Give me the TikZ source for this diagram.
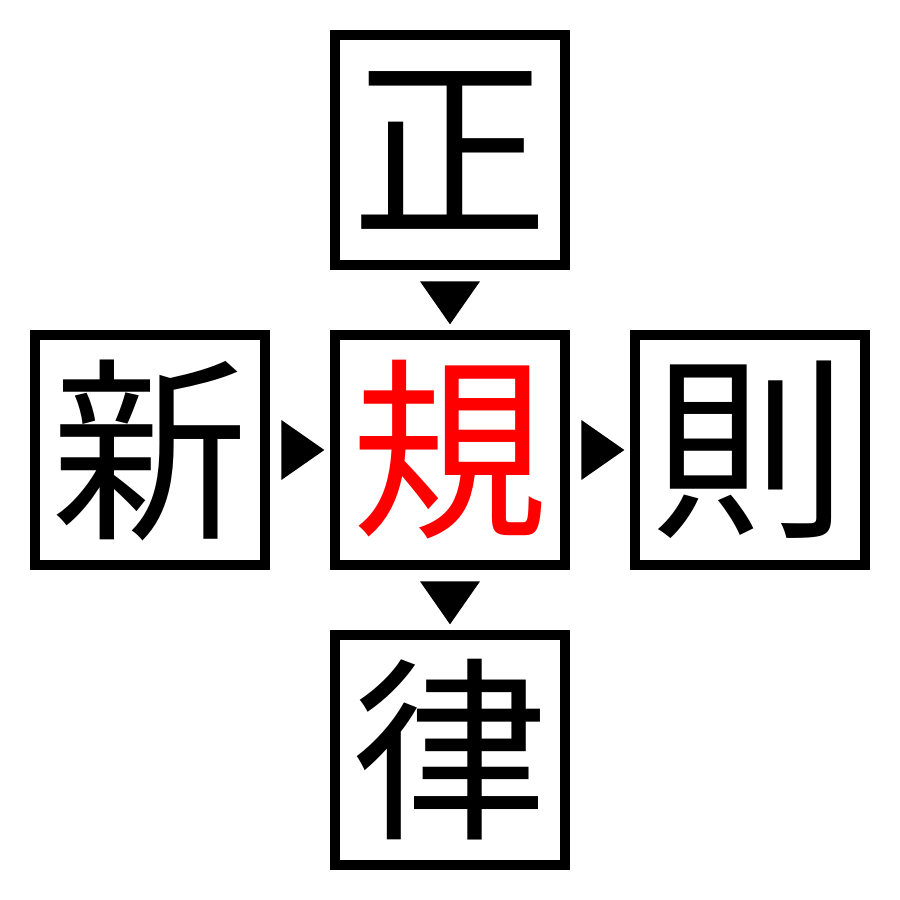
\documentclass[tikz,border=0pt]{standalone}
\usepackage{fontspec}
\newfontfamily\cjk{Noto Sans CJK JP}
\usetikzlibrary{positioning,calc,shapes.geometric}

\begin{document}
\begin{tikzpicture}[
	% Style cho ô chữ
	kanjibox/.style={
		draw=black,
		line width=1mm,
		minimum size=2.3cm,
		inner sep=0pt,
		font=\cjk\fontsize{56}{56}\selectfont
	},
	% Style cho mũi tên tam giác
	tri/.style={
		isosceles triangle,
		isosceles triangle stretches,
		fill=black,
		inner sep=0pt,
		minimum width=0.6cm,
		minimum height=0.43cm
	}
	]
	\useasboundingbox (0,0) rectangle (9,9);
	% Ô trung tâm và bốn ô xung quanh
	\node[kanjibox, text=red] (center) at (4.5,4.5) {規};
	\node[kanjibox] (top)    at (4.5,7.5) {正};
	\node[kanjibox] (left)   at (1.5,4.5) {新};
	\node[kanjibox] (right)  at (7.5,4.5) {則};
	\node[kanjibox] (bottom) at (4.5,1.5) {律};
	
	% Các tam giác chỉ hướng
	\node[tri, shape border rotate=270] (topArrow)   at ($(top.south)!0.5!(center.north)+(0,0.03)$) {};
	\node[tri, shape border rotate=0]   (leftArrow)  at ($(left.east)!0.5!(center.west)+(-0.03,0)$) {};
	\node[tri, shape border rotate=0]   (rightArrow) at ($(center.east)!0.5!(right.west)+(-0.03,0)$) {};
	\node[tri, shape border rotate=270] (botArrow)   at ($(center.south)!0.5!(bottom.north)+(0,0.03)$) {};
\end{tikzpicture}
\end{document}
